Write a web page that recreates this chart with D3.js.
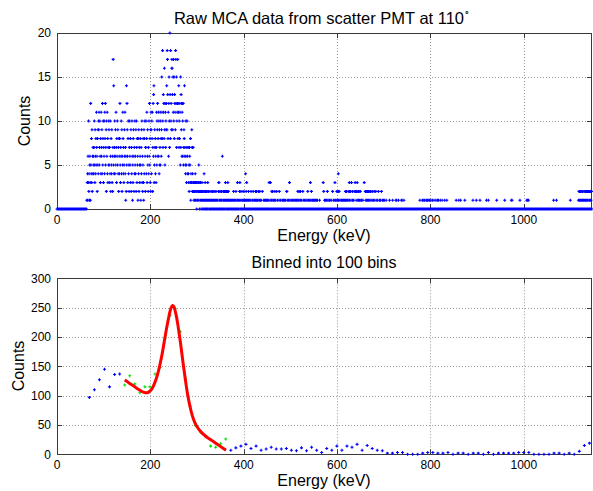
<!DOCTYPE html>
<html><head><meta charset="utf-8">
<script src="https://cdn.jsdelivr.net/npm/d3@7"></script>
<style>
body{margin:0;background:#fff}
svg{display:block}
text{font-family:"Liberation Sans",Arial,Helvetica,sans-serif;fill:#000}
</style>
</head><body>
<svg id="chart" width="593" height="491"></svg>
<script>
// ---------- DATA ----------
// Raw MCA counts, one character per channel (base-36: 0-9, a=10 ... k=20), 20 channels per row
const rawRows = [
"00000000000000000000","00000000000000000000","00000000000000000000","00000000000000000000",
"00000000000000000000","00000000000000113416","3a2415631c5483926475","647a5396485b7628594a",
"9b57a6384b6794c58a37","6a4b8c5792a6b48375a9","5734a6285493627h5e46","7a4695b7386a59472864",
"8c5376a49265b8473596","b47162e5c9638a4527a6","5839274a6153896274a5","6492a738561849275368",
"51749a3625831948a627","7a48b3695274a6c58392","b94a8b27c6de35978463","7b5a9c68b6a4957b5a86",
"9fb8ia7dbc8g95cb7a9c","e9ihd8b6cfa7kd8iac9g","hgd9fbhaf8dcb9ihcf7a","bch8cbe7a8cb5f7d9c6b",
"ca6c5798e6754a6537a4","64743527653814339724","37231232143122301213","31253201232102132012",
"21041203120212010321","10210010120010210120","01102100120101001023","30120110201206010210",
"21201321012021302110","00100101000100102010","10010200100310001012","32010100201001021010",
"01402130100102010100","10020010010200100101","20102010010200102010","00100020000100100100",
"01000100010030010300","10201020010010201000","02010010000201001000","00100101001000101002",
"20010001003010000100","00100010000100100100","10200102001020100100","02001000100001000010",
"20010010003100201010","01001000100100100100","00000100000000000003","02001010010010020100",
"00100100001000020010","01003010010200102410","20010000100100010010","00102010201001020013",
"20102003010201001020","03020102030120102010","02010010000100003000","20102010201020100201",
"02000102001010200100","20001001002000100010","00200100010001000000","10000000000001000000",
"00000100000000000100","10000001000000000010","01000000100000000000","00000000000000000000",
"00000000000000000000","00000000010000000010","00100001000001000100","01000010000100000100",
"00010000001000001000","10000001000000100000","00001000000010000000","00000000000000000000",
"00000000100000000010","00000100000000000000","01000000000000000000","00000000000010000000",
"00000100000000000001","00000000000000000000","00001000000100000000","00000000000000000000",
"00010000000000000000","00000000000000100000","00000000000000000001","00100000000000000000",
"00000000000010000000","00000000000000000010","01000100000000000000","00000000000000000000",
"00000000000000000000","00000000000000000000","00000000000000000000","01000000000010000000",
"00000000000000000000","00000000000000000000","00000100000000000000","00000000000000001020",
"10210201102010201010","21020120112010220102","21021020"
];
const keVPerChannel = 0.5596;

// Binned data (100 bins): bins outside the fit window (blue) and inside it (green)
const blueBinEnergy = [69.3,80.1,90.9,101.8,112.6,123.4,134.2,
 372.3,383.1,393.9,404.7,415.5,426.4,437.2,448.0,458.8,469.6,480.5,491.3,502.1,512.9,523.7,534.6,
 545.4,556.2,567.0,577.8,588.7,599.5,610.3,621.1,631.9,642.8,653.6,664.4,675.2,686.0,696.9,707.7,
 718.5,729.3,740.1,751.0,761.8,772.6,783.4,794.2,805.1,815.9,826.7,837.5,848.3,859.2,870.0,880.8,
 891.6,902.4,913.3,924.1,934.9,945.7,956.5,967.4,978.2,989.0,999.8,1010.6,1021.5,1032.3,1043.1,
 1053.9,1064.7,1075.6,1086.4,1097.2,1108.0,1118.8,1129.7,1140.5];
const blueBinCounts = [97,110,127,145,115,136,137,
 7,11,14,17,10,14,7,9,12,9,9,10,7,6,11,6,
 12,7,3,10,7,14,7,14,12,17,7,15,10,7,6,2,
 2,3,3,0,0,0,2,3,3,2,2,3,0,2,2,0,
 2,2,0,3,0,2,2,2,2,3,3,3,0,0,0,
 0,2,2,0,2,0,5,15,19];
const greenBinEnergy = [145.0,155.9,166.7,177.5,188.3,199.1,210.0,220.8,231.6,242.4,253.2,264.1,
 274.9,285.7,296.5,307.3,318.2,329.0,339.8,350.6,361.4];
const greenBinCounts = [118,134,120,105,115,115,137,148,198,237,248,209,
 130,82,49,38,30,14,12,18,26];

// Fitted curve (red)
const fitEnergy = [145,150,155,160,165,170,175,180,185,190,193,196,200,205,210,215,220,225,230,235,
 240,244,247.5,250,255,260,265,270,275,280,285,290,295,300,305,310,320,330,340,350,362];
const fitCounts = [126.5,124,121,118.5,116,113,110.5,108,106,105,105,106,108.5,114,123,135,151,170,193,216,
 236,249,253.5,252,238,215,187,156,127,101,81,65.5,54.5,47,41.5,37,30,24.5,19,13.5,7];

const xTicks = [0,200,400,600,800,1000];
const yTicksTop = [0,5,10,15,20];
const yTicksBottom = [0,50,100,150,200,250,300];
const xDomain = [0,1146];
const topTitle = "Raw MCA data from scatter PMT at 110";
const bottomTitle = "Binned into 100 bins";
const xLabel = "Energy (keV)";
const yLabel = "Counts";

// ---------- DRAW ----------
const svg = d3.select("#chart");
const L = 57, R = 592;
const panels = [
  {top:33, bottom:209, yDomain:[0,20], yTicks:yTicksTop},
  {top:278.3, bottom:454.3, yDomain:[0,300], yTicks:yTicksBottom}
];
const x = d3.scaleLinear().domain(xDomain).range([L,R]);

function plusPath(px,py,a){return `M${px-a},${py}H${px+a}M${px},${py-a}V${py+a}`;}

function frame(p){
  const y = d3.scaleLinear().domain(p.yDomain).range([p.bottom,p.top]);
  const g = svg.append("g");
  // grid
  g.selectAll(null).data(xTicks.filter(t=>t>xDomain[0]&&t<xDomain[1])).enter().append("line")
    .attr("x1",d=>Math.round(x(d))+0.5).attr("x2",d=>Math.round(x(d))+0.5)
    .attr("y1",p.top).attr("y2",p.bottom)
    .attr("stroke","#9a9a9a").attr("stroke-width",1).attr("stroke-dasharray","1,2");
  g.selectAll(null).data(p.yTicks.filter(t=>t>p.yDomain[0]&&t<p.yDomain[1])).enter().append("line")
    .attr("y1",d=>Math.round(y(d))+0.5).attr("y2",d=>Math.round(y(d))+0.5)
    .attr("x1",L).attr("x2",R)
    .attr("stroke","#9a9a9a").attr("stroke-width",1).attr("stroke-dasharray","1,2");
  // box
  g.append("rect").attr("x",L+0.5).attr("y",Math.round(p.top)+0.5)
    .attr("width",R-L-1).attr("height",Math.round(p.bottom)-Math.round(p.top))
    .attr("fill","none").attr("stroke","#3a3a3a").attr("stroke-width",1);
  // ticks (inside, all sides)
  const tk = 5;
  xTicks.forEach(t=>{
    const xx = Math.round(x(t))+0.5;
    g.append("line").attr("x1",xx).attr("x2",xx).attr("y1",p.bottom).attr("y2",p.bottom-tk).attr("stroke","#3a3a3a");
    g.append("line").attr("x1",xx).attr("x2",xx).attr("y1",p.top).attr("y2",p.top+tk).attr("stroke","#3a3a3a");
  });
  p.yTicks.forEach(t=>{
    const yy = Math.round(y(t))+0.5;
    g.append("line").attr("x1",L).attr("x2",L+tk).attr("y1",yy).attr("y2",yy).attr("stroke","#3a3a3a");
    g.append("line").attr("x1",R).attr("x2",R-tk).attr("y1",yy).attr("y2",yy).attr("stroke","#3a3a3a");
  });
  // tick labels
  g.selectAll(null).data(xTicks).enter().append("text")
    .attr("x",d=>x(d)).attr("y",p.bottom+15).attr("text-anchor","middle")
    .attr("font-size",12).text(d=>d);
  g.selectAll(null).data(p.yTicks).enter().append("text")
    .attr("x",L-6).attr("y",d=>y(d)).attr("dy","0.35em").attr("text-anchor","end")
    .attr("font-size",12).text(d=>d);
  return y;
}

// ---- top panel ----
const yT = frame(panels[0]);
const rawCounts = rawRows.join("").split("").map(c=>parseInt(c,36));
let dTop = "";
rawCounts.forEach((c,i)=>{ dTop += plusPath(x(i*keVPerChannel), yT(c), 1.5); });
svg.append("path").attr("d",dTop).attr("stroke","#0000ff").attr("stroke-width",1.1).attr("fill","none");

const t1 = svg.append("text").attr("x",322).attr("y",24).attr("text-anchor","middle").attr("font-size",16.5);
t1.append("tspan").text(topTitle);
t1.append("tspan").attr("dy",-8).attr("font-size",9).text("\u2218");
svg.append("text").attr("x",324).attr("y",241).attr("text-anchor","middle").attr("font-size",16).text(xLabel);
svg.append("text").attr("transform","translate(30,121) rotate(-90)").attr("text-anchor","middle").attr("font-size",16).text(yLabel);

// ---- bottom panel ----
const yB = frame(panels[1]);
let dBlue = "";
blueBinEnergy.forEach((e,i)=>{ dBlue += plusPath(x(e), yB(blueBinCounts[i]), 1.5); });
svg.append("path").attr("d",dBlue).attr("stroke","#0000ff").attr("stroke-width",1.1).attr("fill","none");
let dGreen = "";
greenBinEnergy.forEach((e,i)=>{ dGreen += plusPath(x(e), yB(greenBinCounts[i]), 1.5); });
svg.append("path").attr("d",dGreen).attr("stroke","#00e000").attr("stroke-width",1.1).attr("fill","none");
const line = d3.line().x((d,i)=>x(fitEnergy[i])).y((d,i)=>yB(fitCounts[i])).curve(d3.curveCatmullRom);
svg.append("path").attr("d",line(fitEnergy)).attr("stroke","#ff0000").attr("stroke-width",3)
  .attr("fill","none").attr("stroke-linejoin","round");

svg.append("text").attr("x",324).attr("y",268).attr("text-anchor","middle").attr("font-size",16).text(bottomTitle);
svg.append("text").attr("x",324).attr("y",486).attr("text-anchor","middle").attr("font-size",16).text(xLabel);
svg.append("text").attr("transform","translate(24,366) rotate(-90)").attr("text-anchor","middle").attr("font-size",16).text(yLabel);
</script>
</body></html>
